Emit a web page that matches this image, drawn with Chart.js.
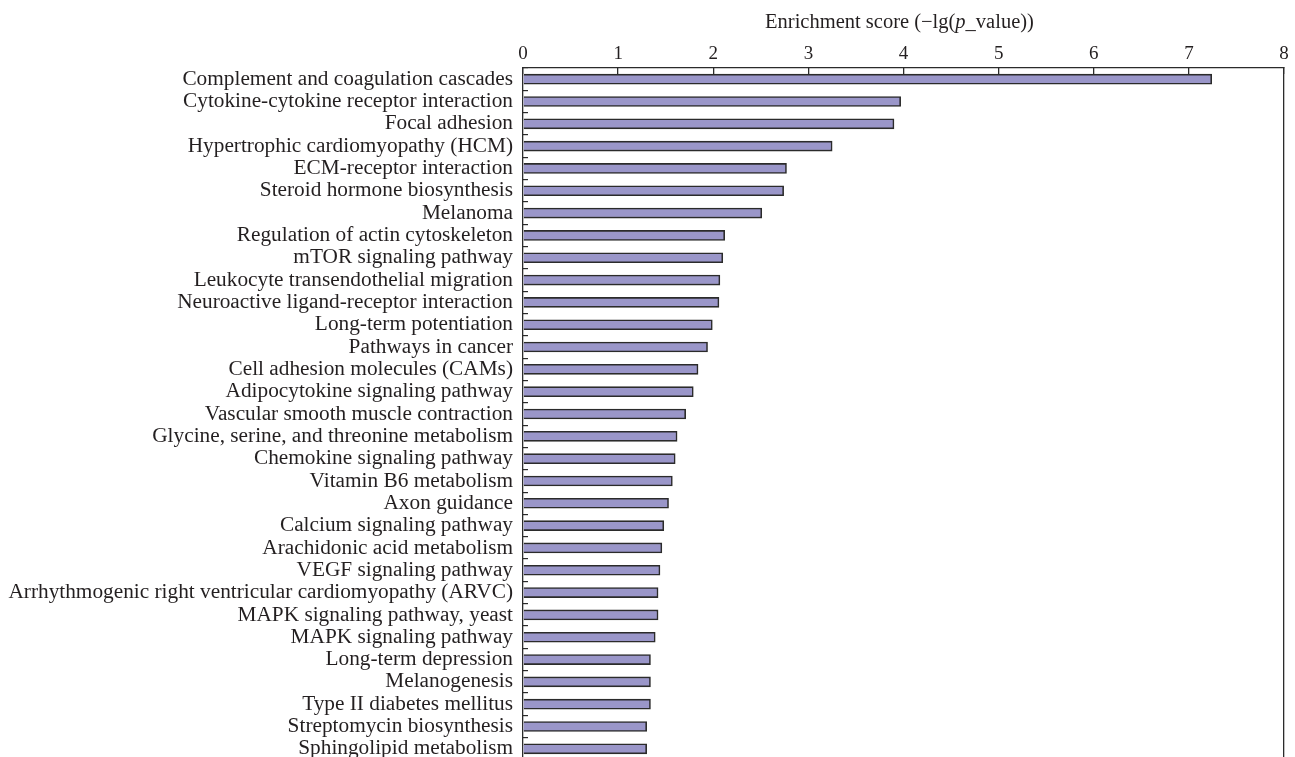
<!DOCTYPE html>
<html>
<head>
<meta charset="utf-8">
<script src="https://cdn.jsdelivr.net/npm/chart.js@4.4.1/dist/chart.umd.min.js"></script>
<style>
  html, body { margin: 0; padding: 0; background: #fff; overflow: hidden; }
  canvas { display: block; }
</style>
</head>
<body>
<canvas id="enrichChart" width="1295" height="762"></canvas>
<script>
// KEGG pathway names, top to bottom
const pathways = [
    'Complement and coagulation cascades',
    'Cytokine-cytokine receptor interaction',
    'Focal adhesion',
    'Hypertrophic cardiomyopathy (HCM)',
    'ECM-receptor interaction',
    'Steroid hormone biosynthesis',
    'Melanoma',
    'Regulation of actin cytoskeleton',
    'mTOR signaling pathway',
    'Leukocyte transendothelial migration',
    'Neuroactive ligand-receptor interaction',
    'Long-term potentiation',
    'Pathways in cancer',
    'Cell adhesion molecules (CAMs)',
    'Adipocytokine signaling pathway',
    'Vascular smooth muscle contraction',
    'Glycine, serine, and threonine metabolism',
    'Chemokine signaling pathway',
    'Vitamin B6 metabolism',
    'Axon guidance',
    'Calcium signaling pathway',
    'Arachidonic acid metabolism',
    'VEGF signaling pathway',
    'Arrhythmogenic right ventricular cardiomyopathy (ARVC)',
    'MAPK signaling pathway, yeast',
    'MAPK signaling pathway',
    'Long-term depression',
    'Melanogenesis',
    'Type II diabetes mellitus',
    'Streptomycin biosynthesis',
    'Sphingolipid metabolism'
];

// -lg(p_value)
const enrichmentScores = [
    7.24, 3.97, 3.90, 3.25, 2.77, 2.74, 2.51, 2.12, 2.10, 2.07,
    2.06, 1.99, 1.94, 1.84, 1.79, 1.71, 1.62, 1.60, 1.57, 1.53,
    1.48, 1.46, 1.44, 1.42, 1.42, 1.39, 1.34, 1.34, 1.34, 1.30,
    1.30
];

const scoreTicks = [0, 1, 2, 3, 4, 5, 6, 7, 8];

const axisColor = '#2b2b2b';
const textColor = '#231f20';
const serif = '"Liberation Serif", "DejaVu Serif", serif';

// Axis title with an italic p, drawn above the top axis
const axisTitlePlugin = {
    id: 'axisTitle',
    afterDraw(chart) {
        const ctx = chart.ctx;
        const xScale = chart.scales.x;
        const centre = (xScale.left + xScale.right) / 2 - 4;
        const parts = [
            { text: 'Enrichment score (\u2212lg(', italic: false },
            { text: 'p', italic: true },
            { text: '_value))', italic: false }
        ];
        ctx.save();
        ctx.fillStyle = textColor;
        ctx.textBaseline = 'alphabetic';
        let total = 0;
        parts.forEach(p => {
            ctx.font = (p.italic ? 'italic ' : '') + '20.5px ' + serif;
            p.w = ctx.measureText(p.text).width;
            total += p.w;
        });
        let x = centre - total / 2;
        parts.forEach(p => {
            ctx.font = (p.italic ? 'italic ' : '') + '20.5px ' + serif;
            ctx.textAlign = 'left';
            ctx.fillText(p.text, x, 28);
            x += p.w;
        });
        ctx.restore();
    }
};

const canvas = document.getElementById('enrichChart');

new Chart(canvas, {
    type: 'bar',
    data: {
        labels: pathways,
        datasets: [{
            label: 'Enrichment score',
            data: enrichmentScores,
            backgroundColor: 'rgb(154, 150, 201)',
            borderColor: axisColor,
            borderWidth: 1.6,
            barThickness: 10
        }]
    },
    options: {
        indexAxis: 'y',
        responsive: false,
        animation: false,
        layout: {
            padding: { top: 0, left: 0, right: 0, bottom: 2 }
        },
        scales: {
            x: {
                position: 'top',
                min: 0,
                max: 8,
                afterBuildTicks: scale => {
                    scale.ticks = scoreTicks.map(v => ({ value: v }));
                },
                afterFit: scale => {
                    scale.height = 68;
                    scale.paddingLeft = 0;
                    scale.paddingRight = 0;
                },
                ticks: {
                    color: textColor,
                    font: { family: serif, size: 19 },
                    padding: 9,
                    maxRotation: 0
                },
                grid: {
                    drawOnChartArea: false,
                    tickLength: -6,
                    color: axisColor,
                    lineWidth: 1.3
                },
                border: { color: axisColor, width: 1.3 }
            },
            y: {
                position: 'left',
                afterFit: scale => {
                    scale.width = 523;
                    scale.paddingTop = 0;
                    scale.paddingBottom = 0;
                },
                ticks: {
                    color: textColor,
                    font: { family: serif, size: 21.3 },
                    padding: 15,
                    autoSkip: false
                },
                grid: {
                    drawOnChartArea: false,
                    offset: true,
                    tickLength: -5,
                    color: axisColor,
                    lineWidth: 1.2
                },
                border: { color: axisColor, width: 1.3 }
            },
            yRight: {
                type: 'category',
                position: 'right',
                afterFit: scale => {
                    scale.width = 11;
                    scale.paddingTop = 0;
                    scale.paddingBottom = 0;
                },
                ticks: { display: false },
                grid: { display: false, drawTicks: false },
                border: { display: true, color: axisColor, width: 1.3 }
            }
        },
        plugins: {
            legend: { display: false },
            tooltip: { enabled: false },
            title: { display: false }
        }
    },
    plugins: [axisTitlePlugin]
});
</script>
</body>
</html>
